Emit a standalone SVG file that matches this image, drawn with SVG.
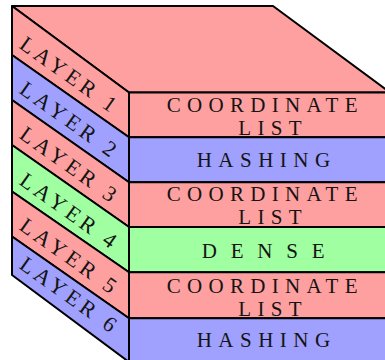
<svg xmlns="http://www.w3.org/2000/svg" width="385" height="360" viewBox="0 0 385 360">
  <style>
    .edge { stroke: #000; stroke-width: 2; stroke-linejoin: round; }
    .red { fill: #ffa0a0; }
    .blue { fill: #a0a0ff; }
    .green { fill: #a0ffa0; }
    text { font-family: "Liberation Serif", "Times New Roman", serif; font-size: 21px; fill: #141414; }
    .side { font-size: 22px; letter-spacing: 4.2px; }
    .wide { letter-spacing: 6.3px; }
    .hash { letter-spacing: 6.5px; }
    .dense { letter-spacing: 13.8px; }
  </style>

  <!-- top face of the stack -->
  <g id="top">
    <polygon class="red edge" points="12,6 273,6 390,92.5 129,92.5"/>
  </g>

  <!-- layer 1 -->
  <g id="layer1">
    <polygon class="red edge" points="12,6 129,92.5 129,137.3 12,55"/>
    <rect class="red edge" x="129" y="92.5" width="270" height="44.8"/>
    <text class="side" x="18" y="47.2" transform="rotate(35.5 18 47.2)">LAYER 1</text>
    <text class="wide" x="166.7" y="112">COORDINATE</text>
    <text class="wide" x="238.3" y="135.3">LIST</text>
  </g>

  <!-- layer 2 -->
  <g id="layer2">
    <polygon class="blue edge" points="12,55 129,137.3 129,182.3 12,100"/>
    <rect class="blue edge" x="129" y="137.3" width="270" height="45"/>
    <text class="side" x="18" y="92.2" transform="rotate(35.5 18 92.2)">LAYER 2</text>
    <text class="hash" x="196.7" y="167.3">HASHING</text>
  </g>

  <!-- layer 3 -->
  <g id="layer3">
    <polygon class="red edge" points="12,100 129,182.3 129,227 12,145"/>
    <rect class="red edge" x="129" y="182.3" width="270" height="44.7"/>
    <text class="side" x="18" y="137.2" transform="rotate(35.5 18 137.2)">LAYER 3</text>
    <text class="wide" x="166.7" y="200.5">COORDINATE</text>
    <text class="wide" x="238.3" y="223.8">LIST</text>
  </g>

  <!-- layer 4 -->
  <g id="layer4">
    <polygon class="green edge" points="12,145 129,227 129,272.3 12,191.5"/>
    <rect class="green edge" x="129" y="227" width="270" height="45.3"/>
    <text class="side" x="18" y="183.6" transform="rotate(35.5 18 183.6)">LAYER 4</text>
    <text class="dense" x="201.7" y="258.3">DENSE</text>
  </g>

  <!-- layer 5 -->
  <g id="layer5">
    <polygon class="red edge" points="12,191.5 129,272.3 129,318.3 12,236.5"/>
    <rect class="red edge" x="129" y="272.3" width="270" height="46"/>
    <text class="side" x="18" y="228.7" transform="rotate(35.5 18 228.7)">LAYER 5</text>
    <text class="wide" x="166.7" y="292.8">COORDINATE</text>
    <text class="wide" x="238.3" y="316.1">LIST</text>
  </g>

  <!-- layer 6 -->
  <g id="layer6">
    <polygon class="blue edge" points="12,236.5 129,318.3 129,362 12,275"/>
    <rect class="blue edge" x="129" y="318.3" width="270" height="43.7"/>
    <text class="side" x="18" y="267.5" transform="rotate(35.5 18 267.5)">LAYER 6</text>
    <text class="hash" x="196.7" y="346.7">HASHING</text>
  </g>
</svg>
